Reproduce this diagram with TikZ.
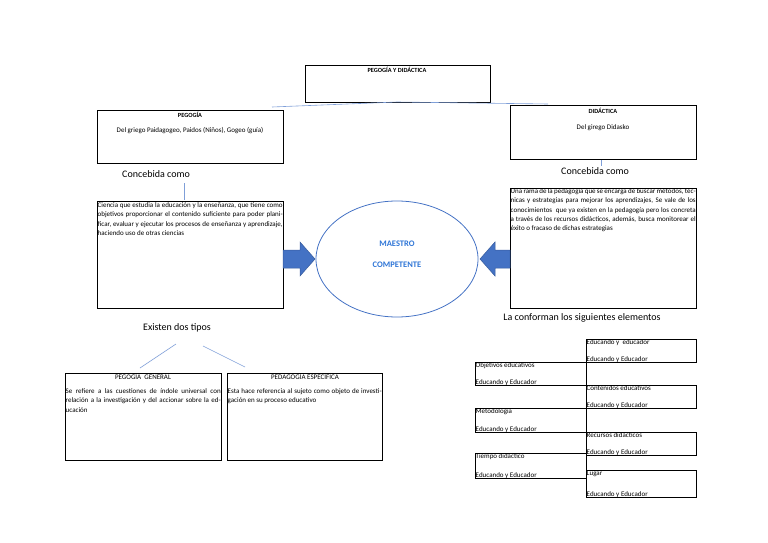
\documentclass[tikz,border=0pt]{standalone}
\usepackage{fontspec}
\setmainfont{Carlito}
\definecolor{ob}{HTML}{4472C4}
\definecolor{ol}{HTML}{7F9FD8}
\definecolor{tb}{HTML}{2E75D6}
\begin{document}
\begin{tikzpicture}[x=1pt,y=-1pt,
 box/.style={draw=black,line width=0.8pt,inner sep=0pt},
 lnk/.style={draw=ol,line width=0.6pt},
 tiny/.style={font=\fontsize{7}{8.5}\selectfont,inner sep=1pt},
 hd/.style={font=\bfseries\fontsize{6.3}{7}\selectfont,inner sep=1pt},
 lab/.style={font=\fontsize{10}{11}\selectfont,inner sep=0pt},
 el/.style={font=\fontsize{7}{9.3}\selectfont,anchor=north west,inner sep=0.5pt},
 barrow/.style={draw=ob!80!black,fill=ob,line width=0.5pt}]
\useasboundingbox (0,0) rectangle (768,543);
% top
\draw[box] (305,65) rectangle (490,102);
\node[hd] (t) at (397,70) {PEGOGÍA Y DIDÁCTICA};
\coordinate (tb) at (397,102);
\coordinate (tl) at (272,107);
\coordinate (tr) at (548,104);
\draw[lnk] (tl) -- (tb) -- (tr);
% pegogia
\draw[box] (97,110) rectangle (283,163);
\node[hd] (p1) at (190,115) {PEGOGÍA};
\node[tiny] (p2) at (190,131) {Del griego Paidagogeo, Paidos (Niños), Gogeo (guía)};
% didactica
\draw[box] (510,105) rectangle (696,159);
\node[hd] (d1) at (603,111) {DIDÁCTICA};
\node[tiny] (d2) at (603,128) {Del girego Didasko};
\node[lab] (c1) at (156,174) {Concebida como};
\node[lab] (c2) at (595,171) {Concebida como};
\coordinate (v1a) at (184,183); \coordinate (v1b) at (184,200);
\draw[lnk] (v1a) -- (v1b);
\coordinate (v2a) at (601,160); \coordinate (v2b) at (601,166);
\draw[lnk] (v2a) -- (v2b);
% text boxes
\draw[box] (97,201) rectangle (283,308);
\node[el,text width=185pt,align=justify] (lt) at (97,202) {Ciencia que estudia la educación y la enseñanza, que tiene como objetivos proporcionar el contenido suficiente para poder planificar, evaluar y ejecutar los procesos de enseñanza y aprendizaje, haciendo uso de otras ciencias};
\draw[box] (510,188) rectangle (696,308);
\node[el,text width=185pt,align=justify] (rt) at (510,188) {Una rama de la pedagogía que se encarga de buscar métodos, técnicas y estrategias para mejorar los aprendizajes, Se vale de los conocimientos\ \ que ya existen en la pedagogía pero los concreta a través de los recursos didácticos, además, busca monitorear el éxito o fracaso de dichas estrategias};
% ellipse
\draw[draw=ob,line width=0.8pt] (397,259) ellipse [x radius=81,y radius=58];
\node[font=\bfseries\fontsize{8.5}{9}\selectfont,text=tb] (m1) at (397,244) {MAESTRO};
\node[font=\bfseries\fontsize{8.5}{9}\selectfont,text=tb] (m2) at (397,265) {COMPETENTE};
\draw[barrow] (283,250) -- (300,250) -- (300,242) -- (315,259) -- (300,276) -- (300,268) -- (283,268) -- cycle;
\draw[barrow] (510,250) -- (495,250) -- (495,242) -- (480,259) -- (495,276) -- (495,268) -- (510,268) -- cycle;
% tipos
\node[lab] (e) at (177,328) {Existen dos tipos};
\coordinate (e1) at (176,344); \coordinate (e2) at (140,368);
\coordinate (e3) at (203,346); \coordinate (e4) at (245,367);
\draw[lnk] (e1) -- (e2); \draw[lnk] (e3) -- (e4);
\draw[box] (65,373) rectangle (221,460);
\draw[box] (227,373) rectangle (382,460);
\node[tiny] (g1) at (143,377) {PEGOGÍA\ \ GENERAL};
\node[tiny] (g2) at (305,377) {PEDAGOGÍA ESPECÍFICA};
\node[el,text width=155pt,align=justify] (g3) at (65,388) {Se refiere a las cuestiones de índole universal con relación a la investigación y del accionar sobre la educación};
\node[el,text width=154pt,align=justify] (g4) at (227,388) {Esta hace referencia al sujeto como objeto de investigación en su proceso educativo};
% elementos
\node[lab] (ce) at (582,318) {La conforman los siguientes elementos};
\foreach \x/\y/\w/\h/\a/\n in {586/339/110/23/{Educando y\ \ educador}/b1, 586/385/110/23/{Contenidos educativos}/b2, 586/432/110/23/{Recursos didácticos}/b3, 586/470/110/27/{Lugar}/b4, 475/362/111/23/{Objetivos educativos}/b5, 475/408/111/24/{Metodología}/b6, 475/453/111/25/{Tiempo didáctico}/b7}{
 \draw[box] (\x,\y) rectangle ++(\w,\h);
 \node[el] (\n a) at (\x,\y) {\a};
 \node[el,anchor=south west] (\n b) at (\x,\y+\h+1) {Educando y Educador};
}
\end{tikzpicture}
\end{document}
